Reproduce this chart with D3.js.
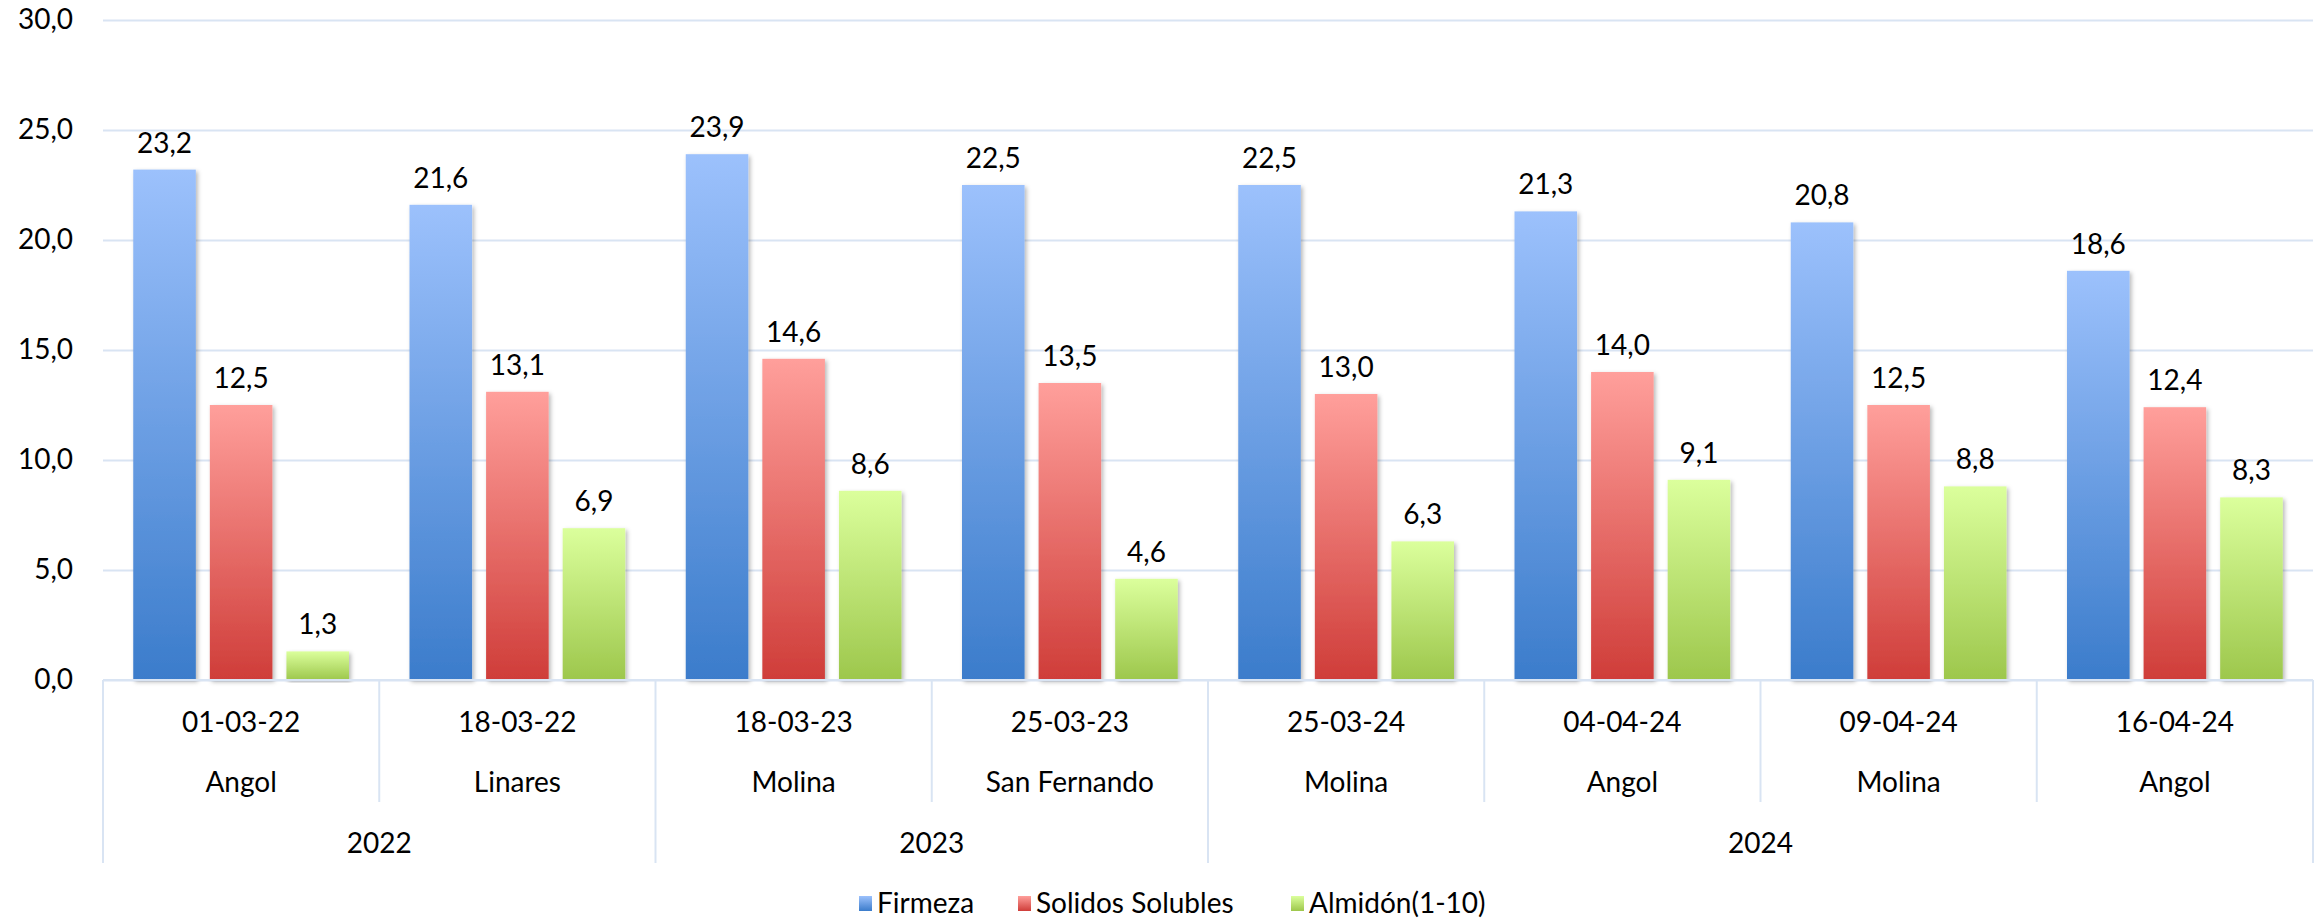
<!DOCTYPE html>
<html>
<head>
<meta charset="utf-8">
<script src="https://cdn.jsdelivr.net/npm/d3@7/dist/d3.min.js"></script>
<style>
  html, body { margin: 0; padding: 0; background: #fff; }
  svg { display: block; font-family: Lato, "Open Sans", sans-serif; }
</style>
</head>
<body>
<svg id="chart" width="2321" height="921"></svg>
<script>
// ---- data ----
const dates = ["01-03-22", "18-03-22", "18-03-23", "25-03-23", "25-03-24", "04-04-24", "09-04-24", "16-04-24"];
const locations = ["Angol", "Linares", "Molina", "San Fernando", "Molina", "Angol", "Molina", "Angol"];
const years = ["2022", "2023", "2024"];
const yearSpans = [2, 2, 4];
const seriesNames = ["Firmeza", "Solidos Solubles", "Almidón(1-10)"];
const firmeza = [23.2, 21.6, 23.9, 22.5, 22.5, 21.3, 20.8, 18.6];
const solidos = [12.5, 13.1, 14.6, 13.5, 13.0, 14.0, 12.5, 12.4];
const almidon = [1.3, 6.9, 8.6, 4.6, 6.3, 9.1, 8.8, 8.3];
const yTicks = [0, 5, 10, 15, 20, 25, 30];

(function () {
const seriesValues = [firmeza, solidos, almidon];
const gradStops = [
  ["#9cc1fc", "#3b7ccb"],
  ["#ff9f9b", "#cf3d39"],
  ["#dbff9c", "#9dc74c"]
];

const svg = d3.select("#chart");
const mLeft = 103, mRight = 2313, mTop = 20, mBottom = 680;

const x0 = d3.scaleBand().domain(d3.range(dates.length)).range([mLeft, mRight]).padding(0);
const x1 = d3.scaleBand().domain(d3.range(3)).range([0, x0.bandwidth()])
  .paddingInner(0.183).paddingOuter(0.395);
const y = d3.scaleLinear().domain([0, 30]).range([mBottom, mTop]);

const loc = d3.formatLocale({decimal: ",", thousands: ".", grouping: [3], currency: ["", ""]});
const fmt = loc.format(".1f");

// defs: gradients + shadow
const defs = svg.append("defs");
gradStops.forEach((c, i) => {
  const g = defs.append("linearGradient").attr("id", "grad" + i)
    .attr("x1", 0).attr("y1", 0).attr("x2", 0).attr("y2", 1);
  g.append("stop").attr("offset", "0%").attr("stop-color", c[0]);
  g.append("stop").attr("offset", "100%").attr("stop-color", c[1]);
});
const f = defs.append("filter").attr("id", "shadow")
  .attr("x", "-20%").attr("y", "-5%").attr("width", "140%").attr("height", "115%");
f.append("feDropShadow").attr("dx", 2).attr("dy", 2).attr("stdDeviation", 2)
  .attr("flood-color", "#000").attr("flood-opacity", 0.28);

// gridlines + y axis
const yAxis = d3.axisLeft(y).tickValues(yTicks).tickFormat(fmt).tickSize(-(mRight - mLeft)).tickPadding(30);
const ga = svg.append("g").attr("transform", `translate(${mLeft},0)`).call(yAxis);
ga.select(".domain").remove();
ga.selectAll(".tick line").attr("stroke", "#d9e4f3").attr("stroke-width", 2);
ga.selectAll(".tick text").attr("fill", "#000").style("font-size", "28px")
  .style("font-family", "Lato, 'Open Sans', sans-serif");

// bars
const groups = svg.append("g").selectAll("g").data(dates).join("g")
  .attr("transform", (d, i) => `translate(${x0(i)},0)`);
seriesValues.forEach((vals, s) => {
  groups.append("rect")
    .attr("x", x1(s))
    .attr("y", (d, i) => y(vals[i]))
    .attr("width", x1.bandwidth())
    .attr("height", (d, i) => y(0) - y(vals[i]))
    .attr("fill", `url(#grad${s})`)
    .attr("filter", "url(#shadow)");
  groups.append("text")
    .attr("x", x1(s) + x1.bandwidth() / 2)
    .attr("y", (d, i) => y(vals[i]) - 17)
    .attr("text-anchor", "middle")
    .style("font-size", "28px")
    .attr("fill", "#000")
    .text((d, i) => fmt(vals[i]));
});

// category axis
const axisG = svg.append("g");
axisG.append("line").attr("x1", mLeft).attr("x2", mRight).attr("y1", mBottom).attr("y2", mBottom)
  .attr("stroke", "#d9e4f3").attr("stroke-width", 2);
const yearBoundaries = [0];
yearSpans.reduce((acc, n) => { yearBoundaries.push(acc + n); return acc + n; }, 0);
for (let i = 0; i <= dates.length; i++) {
  const xx = i < dates.length ? x0(i) : mRight;
  const isYear = yearBoundaries.includes(i);
  axisG.append("line").attr("x1", xx).attr("x2", xx).attr("y1", mBottom)
    .attr("y2", isYear ? 863 : 802).attr("stroke", "#d9e4f3").attr("stroke-width", 2);
}
axisG.selectAll("text.date").data(dates).join("text").attr("class", "date")
  .attr("x", (d, i) => x0(i) + x0.bandwidth() / 2).attr("y", 732)
  .attr("text-anchor", "middle").style("font-size", "28px").attr("fill", "#000").text(d => d);
axisG.selectAll("text.loc").data(locations).join("text").attr("class", "loc")
  .attr("x", (d, i) => x0(i) + x0.bandwidth() / 2).attr("y", 792)
  .attr("text-anchor", "middle").style("font-size", "28px").attr("fill", "#000").text(d => d);
axisG.selectAll("text.year").data(years).join("text").attr("class", "year")
  .attr("x", (d, i) => {
    const a = x0(yearBoundaries[i]);
    const bIdx = yearBoundaries[i + 1];
    const b = bIdx < dates.length ? x0(bIdx) : mRight;
    return (a + b) / 2;
  })
  .attr("y", 853).attr("text-anchor", "middle").style("font-size", "28px").attr("fill", "#000").text(d => d);

// legend
const legendX = [859, 1018, 1291];
const lg = svg.append("g");
seriesNames.forEach((name, i) => {
  lg.append("rect").attr("x", legendX[i]).attr("y", 896).attr("width", 13).attr("height", 15)
    .attr("fill", `url(#grad${i})`);
  lg.append("text").attr("x", legendX[i] + 18).attr("y", 913)
    .style("font-size", "28px").attr("fill", "#000").text(name);
});
})();
</script>
</body>
</html>
